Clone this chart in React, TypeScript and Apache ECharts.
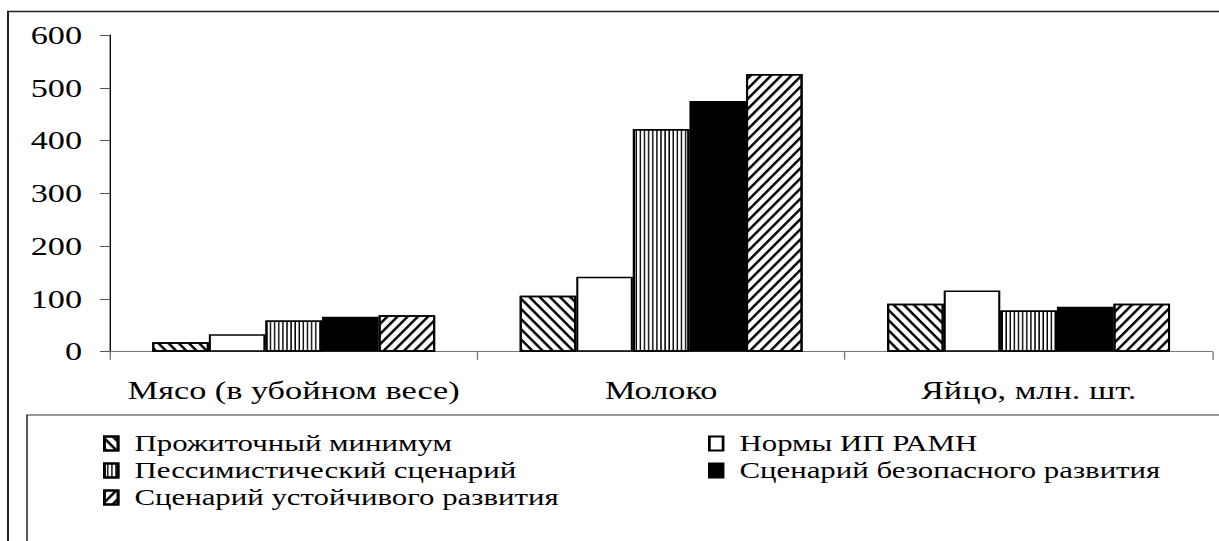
import React, { useEffect, useRef } from "react";
import * as echarts from "echarts";

// ---- data ----
const categories = ["Мясо (в убойном весе)", "Молоко", "Яйцо, млн. шт."];
const seriesNames = [
  "Прожиточный минимум",
  "Нормы ИП РАМН",
  "Пессимистический сценарий",
  "Сценарий безопасного развития",
  "Сценарий устойчивого развития",
];
const livingMinimum = [18, 106, 91];
const ipRamnNorms = [33, 142, 116];
const pessimistic = [59, 422, 78];
const safeDevelopment = [66, 475, 85];
const sustainableDevelopment = [69, 526, 91];
const yMin = 0;
const yMax = 600;
const yInterval = 100;

// ---- layout (the reference is horizontally stretched) ----
const S = 1.37;
const W = 1219;
const H = 541;
const px = (x: number) => x / S;
const FONT = "'Liberation Serif', 'Times New Roman', serif";

const diagDown = {
  symbol: "rect",
  symbolSize: 1,
  color: "#000",
  backgroundColor: "#fff",
  dashArrayX: [1, 0],
  dashArrayY: [2, 4],
  rotation: 0.94,
};
const diagUp = { ...diagDown, rotation: -0.94 };
const vertical = {
  symbol: "rect",
  symbolSize: 1,
  color: "#000",
  backgroundColor: "#fff",
  dashArrayX: [1, 0],
  dashArrayY: [1, 2],
  rotation: Math.PI / 2,
};

export default function App() {
  const ref = useRef<HTMLDivElement>(null);
  useEffect(() => {
    if (!ref.current) return;
    const chart = echarts.init(ref.current, null, { renderer: "svg" });
    const values = [livingMinimum, ipRamnNorms, pessimistic, safeDevelopment, sustainableDevelopment];
    const styles: any[] = [
      { color: "#fff", decal: diagDown },
      { color: "#fff" },
      { color: "#fff", decal: vertical },
      { color: "#000" },
      { color: "#fff", decal: diagUp },
    ];
    const legendCommon = {
      orient: "vertical",
      top: 432,
      padding: 0,
      itemWidth: 10,
      itemHeight: 14,
      itemGap: 4,
      icon: "rect",
      selectedMode: false,
      textStyle: {
        fontFamily: FONT,
        fontSize: 22.5,
        lineHeight: 20,
        color: "#000",
        padding: [0, 0, 0, 7],
      },
    };
    chart.setOption({
      animation: false,
      backgroundColor: "#fff",
      textStyle: { fontFamily: FONT },
      grid: {
        left: px(110),
        right: W / S - px(1212),
        top: 35,
        bottom: H - 351.7,
        containLabel: false,
      },
      legend: [
        { ...legendCommon, left: px(103), data: [seriesNames[0], seriesNames[2], seriesNames[4]] },
        { ...legendCommon, left: px(708), data: [seriesNames[1], seriesNames[3]] },
      ],
      xAxis: {
        type: "category",
        data: categories,
        axisLine: { lineStyle: { color: "#777", width: 1.2 } },
        axisTick: { show: true, length: 8, lineStyle: { color: "#777" } },
        axisLabel: {
          interval: 0,
          margin: 26,
          fontSize: 25,
          color: "#000",
          fontFamily: FONT,
        },
        splitLine: { show: false },
      },
      yAxis: {
        type: "value",
        min: yMin,
        max: yMax,
        interval: yInterval,
        axisLine: { show: true, lineStyle: { color: "#000", width: 1 } },
        axisTick: { show: true, length: px(10), lineStyle: { color: "#555" } },
        axisLabel: {
          margin: px(110 - 82),
          fontSize: 25,
          color: "#000",
          fontFamily: FONT,
        },
        splitLine: { show: false },
      },
      series: seriesNames.map((name, i) => ({
        name,
        type: "bar",
        data: values[i],
        barGap: "0%",
        barCategoryGap: "23%",
        itemStyle: { ...styles[i], borderColor: "#000", borderWidth: 1.5 },
      })),
      graphic: [
        {
          type: "rect",
          shape: { x: px(8), y: 11.5, width: 2000, height: 1000 },
          style: { fill: "none", stroke: "#222", lineWidth: 1.5 },
          silent: true,
        },
        {
          type: "rect",
          shape: { x: px(27), y: 415, width: 2000, height: 1000 },
          style: { fill: "none", stroke: "#333", lineWidth: 1.2 },
          silent: true,
        },
      ],
    });
    return () => chart.dispose();
  }, []);
  return (
    <div
      ref={ref}
      style={{
        position: "absolute",
        left: 0,
        top: 0,
        width: W / S,
        height: H,
        transform: `scaleX(${S})`,
        transformOrigin: "0 0",
      }}
    />
  );
}
